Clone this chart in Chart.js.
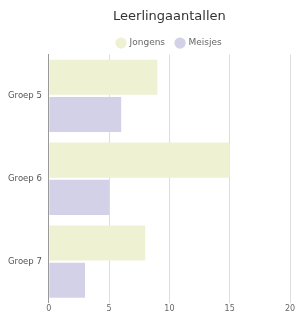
<!DOCTYPE html>
<html><head><meta charset="utf-8">
<script src="https://cdn.jsdelivr.net/npm/chart.js@4"></script>
<style>html,body{margin:0;padding:0;background:#fff}#wrap{width:298px;height:315px}</style>
</head><body><div id="wrap"><canvas id="c" width="298" height="315"></canvas></div>
<script>
const categories = ["Groep 5", "Groep 6", "Groep 7"];
const jongens = [9, 15, 8];
const meisjes = [6, 5, 3];
const xTicks = [0, 5, 10, 15, 20];
const seriesNames = ["Jongens", "Meisjes"];
const FONT = "'DejaVu Sans', sans-serif";
const legendTrim = {
  id: 'legendTrim',
  beforeInit(chart) {
    const lg = chart.legend;
    if (!lg) return;
    const fit = lg.fit;
    lg.fit = function () { fit.call(this); this.height -= 3; };
  }
};
new Chart(document.getElementById('c'), {
  type: 'bar',
  data: {
    labels: categories,
    datasets: [
      { label: seriesNames[0], data: jongens, backgroundColor: '#eef2d3', borderWidth: 0 },
      { label: seriesNames[1], data: meisjes, backgroundColor: '#d3d1e7', borderWidth: 0 }
    ]
  },
  plugins: [legendTrim],
  options: {
    indexAxis: 'y',
    responsive: false,
    animation: false,
    devicePixelRatio: 1,
    layout: { padding: { left: 1, right: 8, top: 5, bottom: 0 } },
    datasets: { bar: { categoryPercentage: 0.9, barPercentage: 0.94 } },
    plugins: {
      title: { display: true, text: 'Leerlingaantallen', fullSize: false, color: '#333', font: { family: FONT, size: 13, weight: 'normal' }, padding: { top: 4, bottom: 3 } },
      legend: { fullSize: false, labels: { usePointStyle: true, pointStyle: 'circle', boxWidth: 8, boxHeight: 8, color: '#666', font: { family: FONT, size: 9 }, padding: 11 } },
      tooltip: { enabled: false }
    },
    scales: {
      x: {
        min: 0, max: 20,
        afterBuildTicks: a => { a.ticks = xTicks.map(v => ({ value: v })); },
        grid: { color: '#dddddd', drawTicks: false },
        border: { display: false },
        ticks: { color: '#666', font: { family: FONT, size: 8 }, padding: 1 }
      },
      y: {
        grid: { display: false, drawTicks: false },
        border: { display: true, color: '#999', width: 1 },
        ticks: { color: '#555', font: { family: FONT, size: 8.5 }, padding: 7 }
      }
    }
  }
});
</script></body></html>
